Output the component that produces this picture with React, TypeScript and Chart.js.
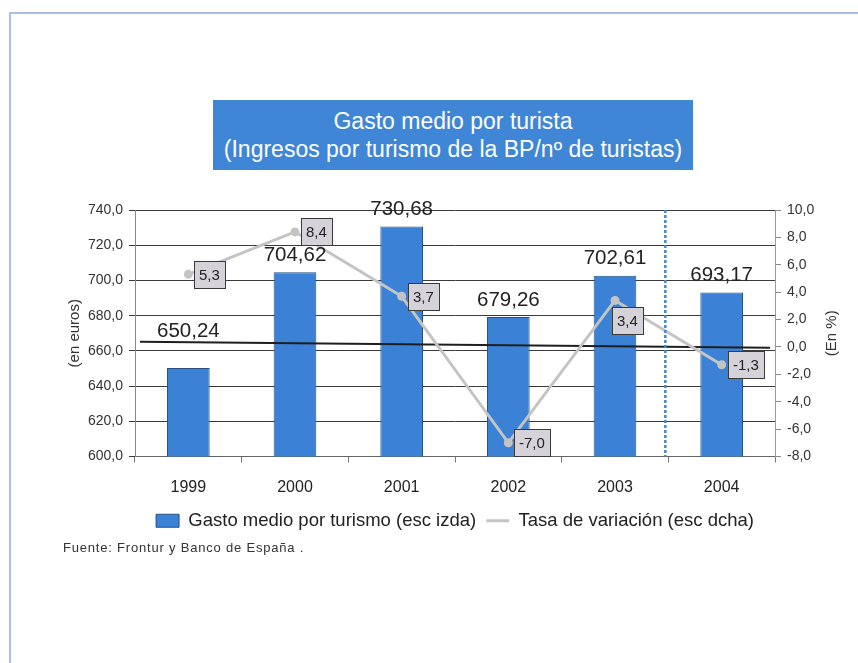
import React, { useEffect, useRef } from 'react';
import { Chart, registerables } from 'chart.js';

Chart.register(...registerables);

// ---- data ----
const years = ['1999', '2000', '2001', '2002', '2003', '2004'];
const gastoMedio = [650.24, 704.62, 730.68, 679.26, 702.61, 693.17];
const tasaVariacion = [5.3, 8.4, 3.7, -7.0, 3.4, -1.3];
const referenceLineEnds = [665.2, 661.8]; // black line, left and right ends (left scale)
const leftAxis = { min: 600, max: 740, step: 20 };
const rightAxis = { min: -8, max: 10, step: 2 };

const titleLine1 = 'Gasto medio por turista';
const titleLine2 = '(Ingresos por turismo de la BP/nº de turistas)';
const barLegend = 'Gasto medio por turismo (esc izda)';
const lineLegend = 'Tasa de variación (esc dcha)';
const sourceText = 'Fuente: Frontur y Banco de España .';

const FONT = '"Liberation Sans", Arial, sans-serif';
const BAR_BLUE = '#3b82d6';
const BAR_EDGE = '#2b4f86';
const LINE_GRAY = '#c4c4c4';

const fmt = (v: number, d: number) => v.toFixed(d).replace('.', ',');

const dividerPlugin = {
  id: 'divider',
  afterDatasetsDraw(chart: any) {
    const { ctx, chartArea, scales } = chart;
    const x = (scales.x.getPixelForValue(4) + scales.x.getPixelForValue(5)) / 2 - 3;
    ctx.save();
    ctx.strokeStyle = '#3f86dc';
    ctx.lineWidth = 2.5;
    ctx.setLineDash([3, 2]);
    ctx.beginPath();
    ctx.moveTo(x, chartArea.top);
    ctx.lineTo(x, chartArea.bottom);
    ctx.stroke();
    ctx.restore();
  },
};

const barLabelPlugin = {
  id: 'barLabels',
  afterDatasetsDraw(chart: any) {
    const { ctx } = chart;
    const meta = chart.getDatasetMeta(0);
    ctx.save();
    ctx.font = `20.5px ${FONT}`;
    ctx.fillStyle = '#222';
    ctx.textAlign = 'center';
    ctx.textBaseline = 'middle';
    meta.data.forEach((bar: any, i: number) => {
      const lift = i === 0 ? 37 : 17;
      ctx.fillText(fmt(gastoMedio[i], 2), bar.x, bar.y - lift);
    });
    ctx.restore();
  },
};

const lineLabelPlugin = {
  id: 'lineLabels',
  afterDatasetsDraw(chart: any) {
    const { ctx } = chart;
    const meta = chart.getDatasetMeta(1);
    ctx.save();
    ctx.font = `15px ${FONT}`;
    ctx.textBaseline = 'middle';
    ctx.textAlign = 'left';
    meta.data.forEach((pt: any, i: number) => {
      const text = fmt(tasaVariacion[i], 1);
      const w = Math.round(ctx.measureText(text).width + 10);
      const h = 27;
      let left = Math.round(pt.x + 6);
      let top = Math.round(pt.y - h / 2);
      if (i === 4) {
        left = Math.round(pt.x - 3);
        top = Math.round(pt.y + 7);
      }
      ctx.fillStyle = '#d6d2da';
      ctx.fillRect(left, top, w, h);
      ctx.strokeStyle = '#3a3a3a';
      ctx.lineWidth = 1;
      ctx.strokeRect(left + 0.5, top + 0.5, w, h);
      ctx.fillStyle = '#222';
      ctx.fillText(text, left + 5, top + h / 2 + 1);
    });
    ctx.restore();
  },
};

const rightTitlePlugin = {
  id: 'rightTitle',
  afterDraw(chart: any) {
    const { ctx, chartArea } = chart;
    ctx.save();
    ctx.translate(832, (chartArea.top + chartArea.bottom) / 2);
    ctx.rotate(-Math.PI / 2);
    ctx.font = `15px ${FONT}`;
    ctx.fillStyle = '#333';
    ctx.textAlign = 'center';
    ctx.textBaseline = 'middle';
    ctx.fillText('(En %)', 0, 0);
    ctx.restore();
  },
};

function ChartCanvas() {
  const ref = useRef<HTMLCanvasElement | null>(null);
  useEffect(() => {
    if (!ref.current) return;
    const chart = new Chart(ref.current, {
      type: 'bar',
      data: {
        labels: years,
        datasets: [
          {
            type: 'bar',
            label: barLegend,
            data: gastoMedio,
            backgroundColor: BAR_BLUE,
            borderColor: BAR_EDGE,
            borderWidth: 1,
            grouped: false,
            barPercentage: 0.4,
            categoryPercentage: 1,
            yAxisID: 'y',
            xAxisID: 'x',
            order: 3,
          },
          {
            type: 'line',
            label: lineLegend,
            data: tasaVariacion,
            borderColor: LINE_GRAY,
            backgroundColor: LINE_GRAY,
            borderWidth: 3,
            pointRadius: 3,
            pointBackgroundColor: LINE_GRAY,
            pointBorderColor: LINE_GRAY,
            tension: 0,
            yAxisID: 'y1',
            xAxisID: 'x',
            order: 1,
          },
          {
            type: 'line',
            label: 'ref',
            data: [
              { x: 0, y: referenceLineEnds[0] },
              { x: 1, y: referenceLineEnds[1] },
            ],
            borderColor: '#1e1e1e',
            borderWidth: 2,
            pointRadius: 0,
            yAxisID: 'y',
            xAxisID: 'x2',
            order: 2,
          },
        ] as any,
      },
      options: {
        animation: false,
        responsive: false,
        devicePixelRatio: 1,
        events: [],
        layout: { padding: { left: 60, right: 8, top: 210, bottom: 123 } },
        scales: {
          x: {
            type: 'category',
            offset: true,
            grid: { offset: true, drawOnChartArea: false, tickLength: 6, color: '#777' },
            border: { display: true, color: '#666' },
            ticks: { font: { family: FONT, size: 16 }, color: '#222', padding: 15 },
            afterFit: (s: any) => { s.height = 45; },
          },
          x2: { type: 'linear', display: false, offset: false, min: -0.008, max: 1.008 },
          y: {
            position: 'left',
            min: leftAxis.min,
            max: leftAxis.max,
            ticks: {
              stepSize: leftAxis.step,
              font: { family: FONT, size: 14 },
              color: '#333',
              padding: 6,
              callback: (v: any) => fmt(Number(v), 1),
            },
            grid: { color: '#3a3a3a', lineWidth: 1, tickLength: 6 },
            border: { display: true, color: '#888' },
            title: {
              display: true,
              text: '(en euros)',
              font: { family: FONT, size: 15 },
              color: '#333',
              padding: { top: 6, bottom: 0 },
            },
            afterFit: (s: any) => { s.width = 75; },
          },
          y1: {
            position: 'right',
            min: rightAxis.min,
            max: rightAxis.max,
            ticks: {
              stepSize: rightAxis.step,
              font: { family: FONT, size: 14 },
              color: '#333',
              padding: 6,
              callback: (v: any) => fmt(Number(v), 1),
            },
            grid: { drawOnChartArea: false, color: '#888', tickLength: 6 },
            border: { display: true, color: '#999' },
            afterFit: (s: any) => { s.width = 75; },
          },
        } as any,
        plugins: {
          title: { display: false },
          tooltip: { enabled: false },
          legend: {
            display: true,
            position: 'bottom',
            labels: {
              usePointStyle: true,
              pointStyleWidth: 23,
              boxHeight: 13,
              padding: 10,
              color: '#222',
              font: { family: FONT, size: 18.5 },
              filter: (item: any) => item.datasetIndex !== 2,
              sort: (a: any, b: any) => a.datasetIndex - b.datasetIndex,
              generateLabels: (chart: any) => {
                const base = (Chart as any).defaults.plugins.legend.labels.generateLabels(chart);
                return base.map((it: any) => {
                  if (it.datasetIndex === 0) {
                    return { ...it, pointStyle: 'rect', fillStyle: BAR_BLUE, strokeStyle: BAR_EDGE, lineWidth: 1 };
                  }
                  if (it.datasetIndex === 1) {
                    return { ...it, pointStyle: 'line', fillStyle: LINE_GRAY, strokeStyle: LINE_GRAY, lineWidth: 3 };
                  }
                  return it;
                });
              },
            },
          },
        },
      } as any,
      plugins: [dividerPlugin, barLabelPlugin, lineLabelPlugin, rightTitlePlugin],
    });
    return () => chart.destroy();
  }, []);
  return <canvas ref={ref} width={858} height={663} style={{ position: 'absolute', left: 0, top: 0 }} />;
}

export default function App() {
  return (
    <div
      style={{
        position: 'fixed',
        left: 0,
        top: 0,
        width: 858,
        height: 663,
        background: '#fff',
        overflow: 'hidden',
        fontFamily: FONT,
      }}
    >
      <div
        style={{
          position: 'absolute',
          left: 9,
          top: 12,
          width: 849,
          height: 651,
          borderTop: '2px solid #a9bde6',
          borderLeft: '2px solid #a9bde6',
          boxSizing: 'border-box',
        }}
      />
      <ChartCanvas />
      <div
        style={{
          position: 'absolute',
          left: 213,
          top: 100,
          width: 480,
          height: 70,
          background: '#3f86d6',
          color: '#fff',
          textAlign: 'center',
          fontSize: 23,
          lineHeight: '28px',
          paddingTop: 7,
          boxSizing: 'border-box',
          whiteSpace: 'nowrap',
        }}
      >
        <div>{titleLine1}</div>
        <div>{titleLine2}</div>
      </div>
      <div
        style={{
          position: 'absolute',
          left: 63,
          top: 540,
          fontSize: 13,
          letterSpacing: '0.8px',
          color: '#333',
          whiteSpace: 'nowrap',
        }}
      >
        {sourceText}
      </div>
    </div>
  );
}
